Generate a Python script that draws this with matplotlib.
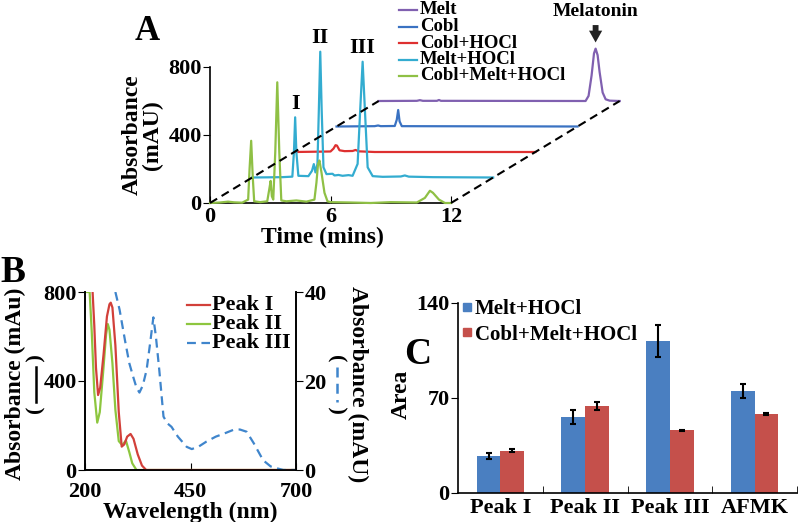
import numpy as np
import matplotlib
matplotlib.use('Agg')
import matplotlib.pyplot as plt
from matplotlib.lines import Line2D

plt.rcParams['font.family'] = ['Liberation Serif', 'DejaVu Serif']
plt.rcParams['font.weight'] = 'bold'
plt.rcParams['axes.labelweight'] = 'bold'
plt.rcParams['axes.linewidth'] = 1.2

W, H = 800, 522

# ---- A: chromatograms, each in its own time (min) / absorbance (mAU) ----
green_t = [0, 0.5, 0.9, 1.2, 1.6, 1.9, 1.97, 2.05, 2.13, 2.2, 2.5, 2.85, 2.95, 3.02, 3.08, 3.15,
           3.25, 3.35, 3.45, 3.55, 3.8, 4.3, 4.8, 5.2, 5.3, 5.38, 5.45, 5.55, 5.7, 5.85, 6.0,
           7.0, 8.0, 9.0, 10.3, 10.7, 10.95, 11.1, 11.4, 11.7, 12]
green_y = [0, 3, 8, 4, 2, 20, 200, 366, 150, 10, 5, 10, 80, 130, 40, 20,
           300, 710, 300, 15, 10, 15, 8, 20, 120, 230, 250, 180, 60, 10, 5,
           3, 0, 5, 3, 30, 72, 60, 20, 0, 0]

cyan_t = [0, 1.5, 2.0, 2.08, 2.14, 2.2, 2.3, 2.8, 2.98, 3.07, 3.15, 3.25, 3.32, 3.39, 3.46, 3.55,
          3.7, 4.0, 4.1, 4.3, 4.5, 4.8, 5.0, 5.25, 5.38, 5.5, 5.62, 5.75, 6.0, 6.5, 7.4, 7.6,
          7.8, 9.0, 12]
cyan_y = [0, 2, 5, 150, 354, 150, 10, 8, 40, 79, 30, 80, 400, 740, 400, 60,
          20, 22, 12, 15, 10, 14, 10, 80, 400, 681, 380, 60, 8, 4, 6, 12,
          5, 2, 0]

red_t = [0, 1.8, 1.95, 2.05, 2.12, 2.25, 2.5, 2.9, 3.05, 3.2, 4.0, 12]
red_y = [0, 3, 20, 40, 38, 10, 5, 6, 12, 4, 0, 0]

blue_t = [0, 1.9, 2.07, 2.2, 2.9, 3.0, 3.07, 3.14, 3.25, 12]
blue_y = [0, 2, 6, 2, 3, 40, 97, 30, 2, 0]

purple_t = [0, 1.9, 2.05, 2.2, 2.9, 3.0, 3.1, 10.3, 10.45, 10.6, 10.72, 10.8, 10.9, 11.0,
            11.15, 11.3, 11.5, 12]
purple_y = [0, 1, 5, 1, 1, 6, 1, 0, 30, 150, 280, 308, 270, 170,
            50, 10, 2, 0]

trace_labels = ['Cobl+Melt+HOCl', 'Melt+HOCl', 'Cobl+HOCl', 'Cobl', 'Melt']
trace_t = [green_t, cyan_t, red_t, blue_t, purple_t]
trace_y = [green_y, cyan_y, red_y, blue_y, purple_y]
trace_colors = ['#8fc045', '#33acd0', '#de3030', '#3a72c2', '#8060b0']

# ---- B: UV-vis spectra ----
wl_I = [218, 222, 226, 231, 236, 244, 252, 258, 261, 265, 272, 280, 287, 293, 300, 308, 315,
        325, 335, 345, 360, 700]
abs_I = [800, 650, 460, 337, 370, 520, 690, 745, 752, 730, 560, 260, 105, 115, 150, 162, 140,
         70, 20, 0, 0, 0]
wl_II = [205, 211, 216, 222, 229, 235, 243, 250, 254, 258, 265, 272, 280, 288, 297, 305, 312,
         322, 700]
abs_II = [800, 800, 620, 350, 213, 260, 440, 610, 656, 630, 480, 270, 130, 112, 132, 80, 30,
          0, 0]
wl_III = [272, 282, 295, 305, 314, 322, 329, 337, 346, 355, 362, 368, 376, 386, 395, 405, 420,
          441, 453, 470, 488, 510, 530, 551, 567, 583, 600, 622, 640, 654, 670, 700]
abs_III = [40, 36, 29, 24, 21, 18.5, 17.4, 19, 22.5, 29, 34.3, 30, 22.5, 12, 10.5, 9.7, 7.5,
           5.2, 4.7, 5.3, 6.4, 7.5, 8.2, 9.0, 9.1, 8.6, 6, 2.2, 0.8, 0.4, 0, 0]

# ---- C: peak areas ----
categories = ['Peak I', 'Peak II', 'Peak III', 'AFMK']
melt_hocl = [27, 56, 112, 75]
melt_hocl_err = [2, 5, 12, 5]
cobl_melt_hocl = [31, 64, 46, 58]
cobl_melt_hocl_err = [1, 3, 0.6, 1]


def fpos(x, y):
    # pixel position -> figure fraction
    return x / W, 1 - y / H


def box(l, t, r, b):
    return [l / W, 1 - b / H, (r - l) / W, (b - t) / H]


fig = plt.figure(figsize=(W / 100, H / 100), dpi=100)

# ================= Panel A =================
axA = fig.add_axes(box(210, 67, 451, 203))
dx, dy = 2.1, 150
for k in range(len(trace_t)):
    axA.plot(np.array(trace_t[k]) + k * dx, np.array(trace_y[k]) + k * dy,
             color=trace_colors[k], lw=1.6, clip_on=False, zorder=10 - k)
n = len(trace_t) - 1
axA.plot([0, n * dx], [0, n * dy], color='black', ls=(0, (4, 2.5)), lw=1.5,
         clip_on=False, zorder=20)
axA.plot([12, 12 + n * dx], [0, n * dy], color='black', ls=(0, (4, 2.5)), lw=1.5,
         clip_on=False, zorder=20)
axA.set_xlim(0, 12)
axA.set_ylim(0, 800)
axA.set_xticks([0, 6, 12])
axA.set_yticks([0, 400, 800])
axA.spines['top'].set_visible(False)
axA.spines['right'].set_visible(False)
axA.tick_params(axis='x', direction='in', length=5, labelsize=16, pad=3)
axA.tick_params(axis='y', direction='out', length=5, labelsize=16, pad=1)
axA.set_xlabel('Time (mins)', fontsize=17)
axA.xaxis.set_label_coords(0.465, -0.175)
axA.set_ylabel('Absorbance\n(mAU)', fontsize=17, labelpad=4, linespacing=0.95)

# peak labels on the Melt+HOCl trace
cy = np.array(cyan_y)
ct = np.array(cyan_t)
for name, lo, hi in [('I', 2.0, 2.3), ('II', 3.3, 3.5), ('III', 5.4, 5.6)]:
    m = (ct >= lo) & (ct <= hi)
    i = np.argmax(np.where(m, cy, -1))
    axA.text(ct[i] + dx, cy[i] + dy + 20, name, ha='center', va='bottom', fontsize=16)

# melatonin arrow
py = np.array(purple_y)
ip = np.argmax(py)
mx, my = purple_t[ip] + 4 * dx, py[ip] + 4 * dy
axA.annotate('', xy=(mx, my + 20), xytext=(mx, my + 155), annotation_clip=False,
             arrowprops=dict(arrowstyle='simple,head_length=0.85,head_width=0.95,tail_width=0.42',
                             mutation_scale=10, color='#222222', lw=0))
axA.text(mx, my + 170, 'Melatonin', ha='center', va='bottom', fontsize=14)

# legend A (top to bottom)
for j, k in enumerate(range(len(trace_labels) - 1, -1, -1)):
    yy = 10 + 16.5 * j
    x0, y0 = fpos(399, yy)
    x1, _ = fpos(417, yy)
    fig.add_artist(Line2D([x0, x1], [y0, y0], color=trace_colors[k], lw=1.6,
                          transform=fig.transFigure))
    tx, ty = fpos(420, yy)
    fig.text(tx, ty, trace_labels[k], ha='left', va='center', fontsize=13.5)

fig.text(*fpos(147, 32), 'A', ha='center', va='center', fontsize=25)

# ================= Panel B =================
axB = fig.add_axes(box(85, 292, 296, 470))
axB.plot(wl_I, abs_I, color='#d2403a', lw=1.6, label='Peak I', zorder=3)
axB.plot(wl_II, abs_II, color='#8dc63f', lw=1.6, label='Peak II', zorder=2)
axB.set_xlim(200, 700)
axB.set_ylim(0, 800)
axB.set_xticks([200, 450, 700])
axB.set_yticks([0, 400, 800])
axB.spines['top'].set_visible(False)
axB.tick_params(axis='x', direction='in', length=5, labelsize=16, pad=8.5)
axB.tick_params(axis='y', direction='out', length=5, labelsize=16, pad=1)
axB.set_xlabel('Wavelength (nm)', fontsize=17, labelpad=0)

axB2 = axB.twinx()
axB2.plot(wl_III, abs_III, color='#3f85cc', lw=1.6, ls=(0, (4, 2.5)), label='Peak III')
axB2.set_ylim(0, 40)
axB2.set_yticks([0, 20, 40])
axB2.spines['top'].set_visible(False)
axB2.tick_params(axis='y', direction='out', length=5, labelsize=16, pad=1)

# legend B
leg_colors = ['#d2403a', '#8dc63f', '#3f85cc']
leg_ls = ['-', '-', (0, (4, 2.5))]
for j, lab in enumerate(['Peak I', 'Peak II', 'Peak III']):
    yy = 305 + 19 * j
    x0, y0 = fpos(187, yy)
    x1, _ = fpos(210, yy)
    fig.add_artist(Line2D([x0, x1], [y0, y0], color=leg_colors[j], lw=1.6, ls=leg_ls[j],
                          transform=fig.transFigure))
    fig.text(*fpos(212, yy), lab, ha='left', va='center', fontsize=16)

# axis labels of B
fig.text(*fpos(15, 384), 'Absorbance (mAu)', rotation=90, ha='center', va='center', fontsize=17)
fig.text(*fpos(36, 384), '(        )', rotation=90, ha='center', va='center', fontsize=16)
fig.add_artist(Line2D([36 / W, 36 / W], [1 - 402 / H, 1 - 367 / H], color='black', lw=1.8,
                      transform=fig.transFigure))
fig.text(*fpos(358, 384), 'Absorbance (mAU)', rotation=270, ha='center', va='center', fontsize=17)
fig.text(*fpos(337, 384), '(        )', rotation=270, ha='center', va='center', fontsize=16)
fig.add_artist(Line2D([337 / W, 337 / W], [1 - 367 / H, 1 - 402 / H], color='#3f85cc', lw=1.8,
                      ls=(0, (4, 2.5)), transform=fig.transFigure))

fig.text(*fpos(13, 273), 'B', ha='center', va='center', fontsize=27)

# ================= Panel C =================
axC = fig.add_axes(box(458, 303, 797, 492.7))
x = np.arange(1, len(categories) + 1)
w = 0.28
axC.bar(x - w / 2, melt_hocl, w, color='#4a7fc1', label='Melt+HOCl',
        yerr=melt_hocl_err, error_kw=dict(ecolor='black', elinewidth=1.5, capsize=2, capthick=1.5))
axC.bar(x + w / 2, cobl_melt_hocl, w, color='#c5504b', label='Cobl+Melt+HOCl',
        yerr=cobl_melt_hocl_err, error_kw=dict(ecolor='black', elinewidth=1.5, capsize=2, capthick=1.5))
axC.set_xlim(0.5, len(categories) + 0.5)
axC.set_ylim(0, 140)
axC.set_yticks([0, 70, 140])
axC.set_xticks(x)
axC.set_xticklabels(categories)
axC.set_xticks(x + 0.5, minor=True)
axC.spines['top'].set_visible(False)
axC.spines['right'].set_visible(False)
axC.tick_params(axis='x', which='major', length=0, labelsize=16, pad=4)
axC.tick_params(axis='x', which='minor', direction='in', length=5)
axC.tick_params(axis='y', direction='out', length=5, labelsize=16, pad=1)
axC.set_ylabel('Area', fontsize=17)
axC.yaxis.set_label_coords(-0.135, 0.52)

handles = [Line2D([], [], marker='s', ls='none', markersize=6, color='#4a7fc1'),
           Line2D([], [], marker='s', ls='none', markersize=6, color='#c5504b')]
axC.legend(handles, ['Melt+HOCl', 'Cobl+Melt+HOCl'], loc='upper left',
           bbox_to_anchor=(-0.025, 1.085), frameon=False, fontsize=15,
           handlelength=0.5, handletextpad=0.1, labelspacing=0.25, borderaxespad=0.2)

fig.text(*fpos(418, 354), 'C', ha='center', va='center', fontsize=27)

fig.savefig('out.png', dpi=100)
